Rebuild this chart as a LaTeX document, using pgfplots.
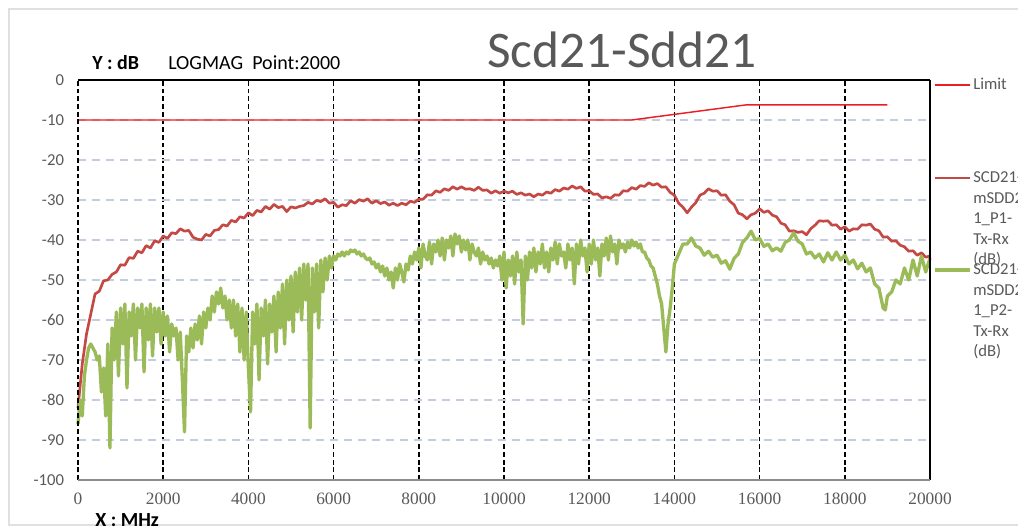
\documentclass[border=0pt]{standalone}
\usepackage{fontspec}
\setmainfont{Carlito}
\newfontfamily\serifnum{Liberation Serif}
\usepackage{pgfplots}
\pgfplotsset{compat=1.18}
\definecolor{limred}{RGB}{236,30,36}
\definecolor{p1red}{RGB}{196,72,68}
\definecolor{p2green}{RGB}{155,187,89}
\definecolor{txtgrey}{RGB}{89,89,89}
\definecolor{hgrid}{RGB}{196,205,224}
\begin{document}
\begin{tikzpicture}
\useasboundingbox (0,0) rectangle (763.5pt,397.5pt);
\begin{axis}[
  at={(58.5pt,37.5pt)}, anchor=south west,
  scale only axis, width=639pt, height=300pt,
  xmin=0, xmax=20000, ymin=-100, ymax=0,
  clip=false, scaled x ticks=false,
  axis line style={draw=none},
  tick style={draw=none},
  xtick={0,2000,4000,6000,8000,10000,12000,14000,16000,18000,20000},
  xticklabels={0,2000,4000,6000,8000,10000,12000,14000,16000,18000,20000},
  ytick={-100,-90,-80,-70,-60,-50,-40,-30,-20,-10,0},
  yticklabels={-100,-90,-80,-70,-60,-50,-40,-30,-20,-10,0},
  xticklabel style={font=\serifnum\fontsize{13}{14}\selectfont, text=txtgrey, yshift=-6pt},
  yticklabel style={font=\fontsize{12.5}{14}\selectfont, text=txtgrey, xshift=-7pt},
  xmajorgrids, ymajorgrids,
  x grid style={black, line width=1.1pt, dash pattern=on 3.6pt off 2.2pt},
  y grid style={hgrid, line width=1pt, dash pattern=on 6pt off 4.5pt},
]
\addplot[limred, line width=1.1pt] coordinates {(0,-10) (13000,-10) (15700,-6.2) (19000,-6.2)};
\addplot[p1red, line width=2pt, line join=round] table {
0 -82
100 -71
200 -63.5
300 -58.5
400 -53.5
500 -52.8
600 -50.2
700 -50
800 -48.6
900 -48
1000 -46.2
1100 -46.3
1200 -44.4
1300 -44.6
1400 -42.8
1500 -43.2
1600 -41.4
1700 -42
1800 -40.2
1900 -40.6
2000 -39
2100 -39.6
2200 -38.2
2300 -38.4
2400 -37.2
2500 -37.8
2600 -37.6
2700 -39.3
2800 -39.8
2900 -40
3000 -38.6
3100 -39
3200 -37.6
3300 -37.4
3400 -36.2
3500 -36.5
3600 -35.1
3700 -35.5
3800 -34.2
3900 -34.5
4000 -33.2
4100 -33.9
4200 -32.6
4300 -33
4400 -31.6
4500 -32.3
4600 -31.1
4700 -31.9
4800 -31.6
4900 -32.9
5000 -31.7
5100 -32
5200 -31.6
5300 -31.4
5400 -30.6
5500 -31
5600 -30.1
5700 -30.4
5800 -29.7
5900 -30.8
6000 -30.6
6100 -31.8
6200 -31.2
6300 -31.4
6400 -30.2
6500 -30.8
6600 -29.9
6700 -30.3
6800 -29.7
6900 -30.8
7000 -30.2
7100 -30.9
7200 -30.5
7300 -31.3
7400 -30.8
7500 -31.4
7600 -30.8
7700 -31.2
7800 -30.3
7900 -30.6
8000 -29.8
8100 -29.8
8200 -28.7
8300 -28.8
8400 -27.7
8500 -28.1
8600 -27.2
8700 -27.6
8800 -26.7
8900 -27.3
9000 -26.7
9100 -27.3
9200 -27.2
9300 -27.6
9400 -26.8
9500 -27.6
9600 -27.5
9700 -28.3
9800 -27.7
9900 -28.3
10000 -27.8
10100 -28.2
10200 -27.8
10300 -28.6
10400 -28.2
10500 -28.8
10600 -28.5
10700 -29.2
10800 -28.5
10900 -28.8
11000 -28
11100 -28.3
11200 -27.4
11300 -27.8
11400 -27
11500 -27.3
11600 -26.5
11700 -27.1
11800 -26.7
11900 -27.8
12000 -27.7
12100 -28.6
12200 -28.5
12300 -29.5
12400 -29.2
12500 -29.6
12600 -28.7
12700 -28.8
12800 -27.7
12900 -27.8
13000 -26.9
13100 -27.3
13200 -26.4
13300 -26.6
13400 -25.7
13500 -26.3
13600 -25.9
13700 -26.8
13800 -26.7
13900 -28.1
14000 -28.8
14100 -30.8
14200 -31.8
14300 -33.2
14400 -31.8
14500 -30.7
14600 -28.8
14700 -28.3
14800 -27.2
14900 -27.8
15000 -27.7
15100 -28.8
15200 -28.7
15300 -30.3
15400 -31.2
15500 -33.3
15600 -33.7
15700 -34.7
15800 -33.7
15900 -33.3
16000 -32.2
16100 -33.1
16200 -32.7
16300 -33.8
16400 -34.2
16500 -35.8
16600 -36.2
16700 -37.8
16800 -37.7
16900 -38.1
17000 -37.9
17100 -38.7
17200 -37.2
17300 -36.3
17400 -35.2
17500 -35.3
17600 -35.2
17700 -36.3
17800 -36.2
17900 -37.3
18000 -36.7
18100 -37.8
18200 -37.2
18300 -37.3
18400 -36.2
18500 -36.3
18600 -36
18700 -37.3
18800 -37.7
18900 -39.3
19000 -39.2
19100 -40.3
19200 -40.2
19300 -41.3
19400 -41.7
19500 -42.8
19600 -42.7
19700 -43.8
19800 -43.2
19900 -44.3
20000 -44
};
\addplot[p2green, line width=2.5pt, line join=round] table {
0 -86
50 -80
100 -84
150 -74
200 -70
250 -67
300 -66
350 -67
400 -68
450 -70
500 -69
550 -78
600 -72
650 -84
700 -66
750 -92
800 -62
850 -70
900 -58
950 -74
1000 -57
1050 -66
1100 -56
1150 -77
1200 -58
1250 -64
1300 -56
1350 -70
1400 -57
1450 -62
1500 -56
1550 -73
1600 -57
1650 -65
1700 -56
1750 -69
1800 -57
1850 -63
1900 -57
1950 -66
2000 -58
2050 -64
2100 -59
2150 -68
2200 -61
2250 -64
2300 -62
2350 -70
2400 -63
2450 -75
2500 -88
2550 -64
2600 -68
2650 -62
2700 -67
2750 -61
2800 -65
2850 -59
2900 -66
2950 -58
3000 -62
3050 -57
3100 -60
3150 -54
3200 -58
3250 -53
3300 -56
3350 -52
3400 -57
3450 -54
3500 -60
3550 -55
3600 -62
3650 -55
3700 -64
3750 -56
3800 -68
3850 -57
3900 -70
3950 -58
4000 -72
4050 -83
4100 -58
4150 -66
4200 -56
4250 -75
4300 -57
4350 -64
4400 -55
4450 -71
4500 -56
4550 -63
4600 -54
4650 -68
4700 -53
4750 -62
4800 -51
4850 -66
4900 -50
4950 -60
5000 -49
5050 -63
5100 -48
5150 -58
5200 -47
5250 -60
5300 -46
5350 -55
5400 -46
5450 -87
5500 -47
5550 -58
5600 -46
5650 -62
5700 -45
5750 -53
5800 -44.5
5850 -50
5900 -44
5950 -47
6000 -44
6050 -45
6100 -43.5
6150 -44
6200 -43
6250 -44
6300 -43
6350 -43.5
6400 -42.5
6450 -43
6500 -42.5
6550 -43.5
6600 -43
6650 -44
6700 -43.5
6750 -44.5
6800 -45
6850 -44.5
6900 -46
6950 -45.5
7000 -47
7050 -46
7100 -48
7150 -46.5
7200 -49
7250 -47
7300 -50
7350 -48
7400 -52
7450 -47
7500 -50
7550 -46
7600 -48
7650 -50.5
7700 -46
7750 -47.5
7800 -44
7850 -46
7900 -43
7950 -45
8000 -42
8050 -47
8100 -41
8150 -44
8200 -45
8250 -40.5
8300 -46
8350 -41
8400 -43
8450 -40
8500 -44
8550 -39.5
8600 -45
8650 -40
8700 -42
8750 -39
8800 -44
8850 -38.5
8900 -41
8950 -39
9000 -43
9050 -40
9100 -42.5
9150 -40
9200 -45
9250 -41
9300 -43
9350 -44
9400 -42
9450 -46
9500 -43
9550 -45
9600 -44
9650 -46
9700 -44.5
9750 -47
9800 -45
9850 -46.5
9900 -44
9950 -50
10000 -43
10050 -52
10100 -45
10150 -49
10200 -44
10250 -51
10300 -43
10350 -48
10400 -45
10450 -61
10500 -44
10550 -50
10600 -43
10650 -47
10700 -42
10750 -48
10800 -43
10850 -46
10900 -41
10950 -47
11000 -43
11050 -48
11100 -42
11150 -45
11200 -40.5
11250 -46
11300 -41
11350 -44
11400 -43
11450 -47
11500 -41
11550 -45
11600 -42
11650 -51
11700 -41
11750 -46
11800 -40
11850 -44
11900 -42
11950 -48
12000 -41
12050 -46
12100 -40
12150 -45
12200 -42
12250 -49
12300 -41
12350 -44
12400 -39.5
12450 -45
12500 -39
12550 -43
12600 -41
12650 -46
12700 -40
12750 -42
12800 -41
12850 -43
12900 -40.5
12950 -42
13000 -40
13050 -41.5
13100 -40.5
13150 -42
13200 -41
13250 -43
13300 -43
13350 -44.5
13400 -45
13450 -46.5
13500 -47
13550 -49
13600 -51
13650 -54
13700 -56
13750 -62
13800 -68
13850 -61
13900 -57
13950 -52
14000 -46
14100 -43.5
14200 -41
14300 -41
14400 -39.5
14500 -41.5
14600 -42
14700 -43.8
14800 -42.8
14900 -44.3
15000 -43.8
15100 -45.8
15200 -45.2
15300 -47.3
15400 -44.6
15500 -43.5
15600 -40.6
15700 -39.5
15800 -37.8
15900 -40
16000 -39.6
16100 -41.6
16200 -41
16300 -42.7
16400 -42
16500 -42.8
16600 -40.6
16700 -40
16800 -38.2
16900 -40.3
17000 -41
17100 -43.5
17200 -43
17300 -44.5
17400 -43.5
17500 -45.5
17600 -43.2
17700 -45
17800 -43
17900 -45
18000 -43.8
18100 -46
18200 -45
18300 -47.2
18400 -45.8
18500 -48
18600 -47
18700 -51
18800 -52
18900 -57
18950 -57.5
19000 -54
19100 -53
19200 -50
19300 -51
19400 -47
19500 -50
19600 -45
19700 -49
19800 -44
19900 -48
20000 -44.5
};
\draw[black, line width=1.1pt] (rel axis cs:0,1) -- (rel axis cs:1,1);
\draw[black, line width=1.5pt] (rel axis cs:1,0) -- (rel axis cs:1,1);
\draw[black, line width=1.5pt, dash pattern=on 3.6pt off 2.2pt] (rel axis cs:0,0) -- (rel axis cs:0,1);
\draw[black!45, line width=1.5pt] (rel axis cs:0,0) -- (rel axis cs:1,0);
\end{axis}
\begin{scope}[x=0.75pt, y=0.75pt]
\draw[black!12, line width=0.8pt] (1018,521) -- (9,521) -- (9,5) -- (1018,5);
\node[anchor=base, font=\fontsize{38.5}{42}\selectfont, text=txtgrey, inner sep=0pt] at (622,462) {Scd21-Sdd21};
\node[anchor=base west, font=\bfseries\fontsize{15}{18}\selectfont, inner sep=0pt] at (92,460) {Y : dB};
\node[anchor=base west, font=\fontsize{15}{18}\selectfont, inner sep=0pt] at (168,460) {LOGMAG\ \ Point:2000};
\node[anchor=base west, font=\bfseries\fontsize{15}{18}\selectfont, inner sep=0pt] at (95,3) {X : MHz};
\draw[limred, line width=1.1pt] (935,445) -- (970,445);
\node[anchor=base west, font=\fontsize{12.5}{15}\selectfont, text=txtgrey, inner sep=0pt] at (973,440) {Limit};
\draw[p1red, line width=2pt] (935,352) -- (970,352);
\draw[p2green, line width=2.5pt] (935,260) -- (970,260);
\foreach \t [count=\i from 0] in {SCD21-,mSDD2,1\_P1-,Tx-Rx,(dB)}
  \node[anchor=base west, font=\fontsize{12.5}{15}\selectfont, text=txtgrey, inner sep=0pt] at (973,347-20.5*\i) {\t};
\foreach \t [count=\i from 0] in {SCD21-,mSDD2,1\_P2-,Tx-Rx,(dB)}
  \node[anchor=base west, font=\fontsize{12.5}{15}\selectfont, text=txtgrey, inner sep=0pt] at (973,255-20.5*\i) {\t};
\end{scope}
\end{tikzpicture}
\end{document}
